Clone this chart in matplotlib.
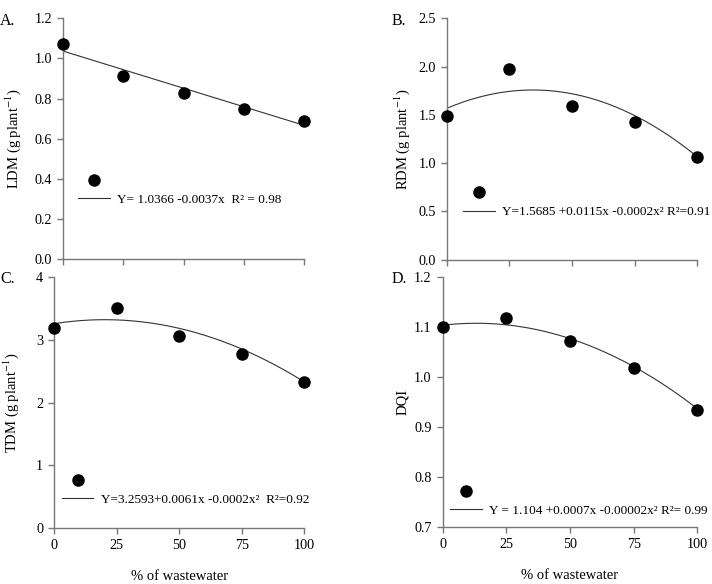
import numpy as np
import matplotlib
matplotlib.use("Agg")
import matplotlib.pyplot as plt
from matplotlib.lines import Line2D

plt.rcParams['font.family'] = ['Liberation Serif', 'DejaVu Serif']
plt.rcParams['mathtext.fontset'] = 'stix'

# ---- data ----
wastewater = [0, 25, 50, 75, 100]
ldm = [1.073, 0.912, 0.828, 0.748, 0.688]
rdm = [1.485, 1.972, 1.592, 1.426, 1.064]
tdm = [3.185, 3.514, 3.067, 2.770, 2.320]
dqi = [1.100, 1.118, 1.072, 1.019, 0.935]

# fitted curve coefficients (as drawn): a + b x + c x^2
fit_ldm = [1.0366, -0.0037, 0.0]
fit_rdm = [1.5685, 0.0110, -0.00016]
fit_tdm = [3.2593, 0.0063, -0.000156]
fit_dqi = [1.104, 0.0006, -0.0000227]

eq_ldm = "Y= 1.0366 -0.0037x  R² = 0.98"
eq_rdm = "Y=1.5685 +0.0115x -0.0002x² R²=0.91"
eq_tdm = "Y=3.2593+0.0061x -0.0002x²  R²=0.92"
eq_dqi = "Y = 1.104 +0.0007x -0.00002x² R²= 0.99"

ylabels = ["LDM (g plant$^{-1}$)", "RDM (g plant$^{-1}$)", "TDM (g plant$^{-1}$)", "DQI"]
panel_letters = ["A.", "B.", "C.", "D."]
xticks = [0, 25, 50, 75, 100]
yticks_A = [0.0, 0.2, 0.4, 0.6, 0.8, 1.0, 1.2]
yticks_B = [0.0, 0.5, 1.0, 1.5, 2.0, 2.5]
yticks_C = [0, 1, 2, 3, 4]
yticks_D = [0.7, 0.8, 0.9, 1.0, 1.1, 1.2]

W, H = 712, 584
fig = plt.figure(figsize=(W/100, H/100), dpi=100)

def ax_px(l, r, t, b):
    return fig.add_axes([l/W, 1-b/H, (r-l)/W, (b-t)/H])

axA = ax_px(63, 304, 18.3, 259)
axB = ax_px(447, 697, 18.3, 259.7)
axC = ax_px(54.3, 304.3, 277.3, 527.7)
axD = ax_px(442.7, 697.3, 277.3, 527)

specs = [
    (axA, ldm, fit_ldm, eq_ldm, yticks_A, "%.1f", False, (0.062, 0.285), -0.166, (0, 21)),
    (axB, rdm, fit_rdm, eq_rdm, yticks_B, "%.1f", False, (0.064, 0.235), -0.140, (392, 21)),
    (axC, tdm, fit_tdm, eq_tdm, yticks_C, "%d", True, (0.030, 0.149), -0.133, (0, 279)),
    (axD, dqi, fit_dqi, eq_dqi, yticks_D, "%.1f", True, (0.029, 0.101), -0.132, (392, 279)),
]

line_col = '#333333'
spine_col = '#777777'
xs = np.linspace(0, 100, 200)

for i, (ax, yv, fit, eq, yt, fmt, xlab, legpos, ylx, letpos) in enumerate(specs):
    ax.plot(wastewater, yv, 'o', color='black', ms=8, clip_on=False, zorder=3)
    a, b, c = fit
    ax.plot(xs, a + b*xs + c*xs**2, color=line_col, lw=0.8)
    ax.set_xlim(0, 100)
    ax.set_ylim(yt[0], yt[-1])
    ax.set_xticks(xticks)
    ax.set_yticks(yt)
    ax.set_yticklabels([fmt % v for v in yt])
    if not xlab:
        ax.set_xticklabels([])
    else:
        ax.set_xlabel("% of wastewater", fontsize=10.5)
        ax.xaxis.set_label_coords(0.5, -0.17)
    for s in ['top', 'right']:
        ax.spines[s].set_visible(False)
    for s in ['left', 'bottom']:
        ax.spines[s].set_color(spine_col)
        ax.spines[s].set_linewidth(1.0)
    ax.tick_params(direction='out', length=4, width=1.0, color=spine_col,
                   labelsize=10.2, pad=4)
    ax.set_ylabel(ylabels[i], fontsize=10.5)
    ax.yaxis.set_label_coords(ylx, 0.5)
    h_dot = Line2D([], [], ls='none', marker='o', color='black', ms=8)
    h_line = Line2D([], [], color=line_col, lw=0.8)
    ax.legend([h_dot, h_line], ['', eq], loc='center left', bbox_to_anchor=legpos,
              frameon=False, borderpad=0, borderaxespad=0, handlelength=2.4,
              handletextpad=0.55, labelspacing=0.45, fontsize=9.5)
    fig.text(letpos[0]/W, 1-letpos[1]/H, panel_letters[i], fontsize=11.5, va='center', ha='left')

fig.savefig("out.png", dpi=100)
